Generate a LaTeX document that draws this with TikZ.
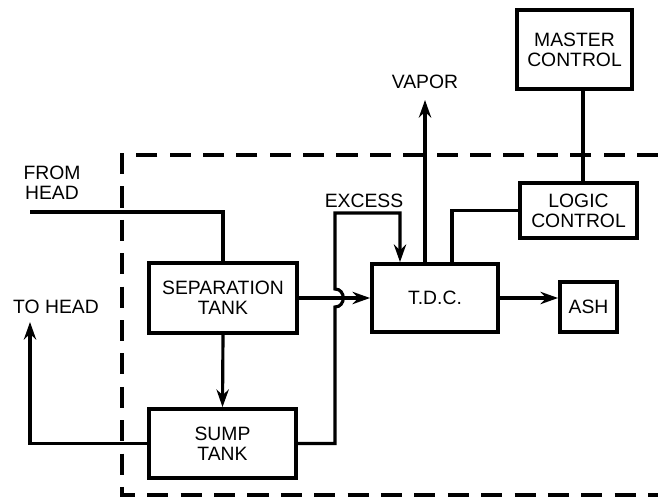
\documentclass[tikz,border=0pt]{standalone}
\usepackage{fontspec}
\setmainfont{Liberation Sans}
\usetikzlibrary{arrows.meta}

\begin{document}
\begin{tikzpicture}[x=0.02cm, y=-0.02cm, >={Stealth[length=10pt,width=7pt]},
	line width=1.8pt, font=\fontsize{11}{11.5}\selectfont,
	caja/.style={draw, line width=2.2pt, align=center, inner sep=0pt},
	rotulo/.style={align=center, inner sep=0pt}]
	\def\yMain{298}
	\def\xLeft{122}
	\def\yTopDash{155}
	\def\yBotDash{495}
	\def\xExc{335}
	\def\yExc{213}
	
	\useasboundingbox (0,0) rectangle (658,499);
	
	% Frontera punteada
	\draw[line width=2.2pt, dash pattern=on 12pt off 7pt]
	(658,\yTopDash) -- (\xLeft,\yTopDash) -- (\xLeft,\yBotDash) -- (658,\yBotDash);
	
	% Cajas
	\node[caja, minimum width=2.96cm, minimum height=1.4cm] (sepTank) at (223,\yMain) {SEPARATION\\TANK};
	\node[caja, minimum width=2.94cm, minimum height=1.38cm] (sumpTank) at (222.5,443.5) {SUMP\\TANK};
	\node[caja, minimum width=2.52cm, minimum height=1.36cm] (tdc) at (435,\yMain) {T.D.C.};
	\node[caja, minimum width=1.14cm, minimum height=1.0cm] (ash) at (588.5,307) {ASH};
	\node[caja, minimum width=2.34cm, minimum height=1.1cm] (logicCtl) at (578.5,210.5) {LOGIC\\CONTROL};
	\node[caja, minimum width=2.3cm, minimum height=1.58cm] (masterCtl) at (574.5,49.5) {MASTER\\CONTROL};
	
	% Rotulos
	\node[rotulo] (lblFrom) at (52,183) {FROM\\HEAD};
	\node[rotulo] (lblTo) at (56,307) {TO HEAD};
	\node[rotulo] (lblVapor) at (425,82) {VAPOR};
	\node[rotulo] (lblExcess) at (364,201) {EXCESS};
	
	% Puntos auxiliares
	\coordinate (fromHead) at (30,212);
	\coordinate (toHead) at (30,322);
	\coordinate (vaporTip) at (425,100);
	\coordinate (excessTop) at (\xExc,\yExc);
	\coordinate (excessIn) at (400,0);
	\coordinate (linkVapor) at (425,0);
	\coordinate (linkTdc) at (452,0);
	\coordinate (linkLogic) at (583,0);
	
	% Entrada desde la cabeza
	\draw (fromHead) -| (sepTank.north);
	% Separacion -> sumidero
	\draw[->] (sepTank.south) -- (sumpTank.north);
	% Retorno a la cabeza
	\draw[->] (sumpTank.west) -| (toHead);
	% Separacion -> T.D.C.
	\draw[->] (sepTank.east) -- (tdc.west);
	% Exceso, con salto sobre la linea
	\draw[->] (sumpTank.east) -| (\xExc,\yMain+9)
	.. controls (\xExc+11,\yMain+9) and (\xExc+11,\yMain-9) .. (\xExc,\yMain-9)
	|- (excessIn |- excessTop) -- (excessIn |- tdc.north);
	% Vapor
	\draw[->] (tdc.north -| linkVapor) -- (vaporTip);
	% T.D.C. - control logico - control maestro
	\draw (tdc.north -| linkTdc) |- (logicCtl.west);
	\draw (masterCtl.south -| linkLogic) -- (logicCtl.north -| linkLogic);
	% T.D.C. -> ceniza
	\draw[->] (tdc.east) -- (tdc.east -| ash.west);
	
\end{tikzpicture}
\end{document}
